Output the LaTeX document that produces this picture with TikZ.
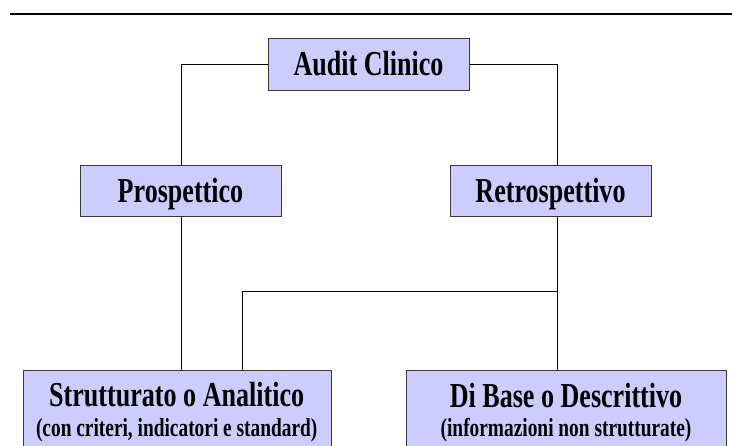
\documentclass[tikz,border=0pt]{standalone}
\usepackage{fontspec}
\newfontfamily\boxfont{Liberation Serif}[FakeStretch=0.745]
\definecolor{boxfill}{HTML}{CCCCFF}
\definecolor{boxline}{HTML}{3A3A3A}
\begin{document}
\begin{tikzpicture}[x=1pt,y=-1pt,
  box/.style={draw=boxline, line width=1.3pt, fill=boxfill, anchor=north west, inner sep=0pt},
  wire/.style={draw=black, line width=0.9pt},
  big/.style={font=\boxfont\bfseries\fontsize{35}{38}\selectfont, anchor=base, inner sep=0pt},
  small/.style={font=\boxfont\bfseries\fontsize{26}{29}\selectfont, anchor=base, inner sep=0pt}]
  \useasboundingbox (0,0) rectangle (732,446);
  \clip (0,0) rectangle (732,446);
  \fill[white] (0,0) rectangle (732,446);

  % rule across the top
  \draw[line width=2pt] (10,14.3) -- (732,14.3);

  % boxes
  \node[box, minimum width=201pt, minimum height=52pt] (audit) at (268,38) {};
  \node[box, minimum width=201pt, minimum height=51pt] (prosp) at (80,165) {};
  \node[box, minimum width=201pt, minimum height=51pt] (retro) at (450,165) {};
  \node[box, minimum width=308pt, minimum height=110pt] (strut) at (22.7,370) {};
  \node[box, minimum width=320pt, minimum height=110pt] (base) at (406,370) {};

  % labels
  \node[big] (audit-t) at (368.5,76) {Audit Clinico};
  \node[big] (prosp-t) at (180.5,203) {Prospettico};
  \node[big] (retro-t) at (550.5,203) {Retrospettivo};
  \node[big] (strut-t) at (176.7,407) {Strutturato o Analitico};
  \node[small] (strut-s) at (176.7,437) {(con criteri, indicatori e standard)};
  \node[big] (base-t) at (566,408) {Di Base o Descrittivo};
  \node[small] (base-s) at (566,437) {(informazioni non strutturate)};

  % connectors
  \coordinate (rtop) at ([xshift=6.2pt]retro.north);
  \coordinate (rbot) at ([xshift=6.2pt]retro.south);
  \coordinate (join) at (242.7,291.7);
  \draw[wire] (audit.west) -| (prosp.north);
  \draw[wire] (audit.east) -| (rtop);
  \draw[wire] (prosp.south) -- (prosp.south |- strut.north);
  \draw[wire] (rbot) -- (rbot |- base.north);
  \draw[wire] (rbot |- join) -- (join) -- (join |- strut.north);
\end{tikzpicture}
\end{document}
